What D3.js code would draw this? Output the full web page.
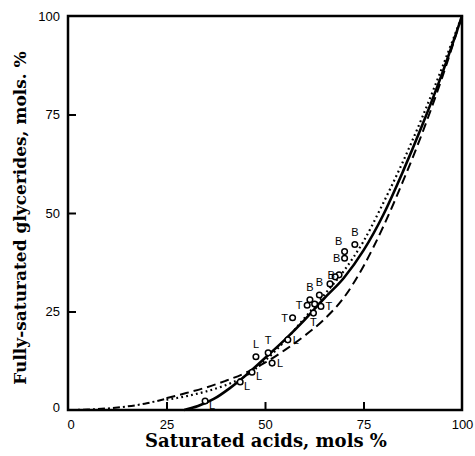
<!DOCTYPE html>
<html>
<head>
<meta charset="utf-8">
<script src="https://cdn.jsdelivr.net/npm/d3@7"></script>
<style>
  body { margin: 0; background: #fff; }
  svg { display: block; }
</style>
</head>
<body>
<script>

// DATI

var xTicks = [0, 25, 50, 75, 100];
var yTicks = [0, 25, 50, 75, 100];

// curva continua
var solidX = [29.5, 33, 37, 41, 45, 50, 55, 60, 65, 70, 75, 80, 85, 90, 95, 100];
var solidY = [0, 1, 2.8, 5.5, 8.7, 13.2, 17.8, 22.8, 28.3, 33.5, 40.5, 49.5, 60.5, 72.5, 85.5, 100];

// curva tratteggiata
var dashedX = [25, 30, 35, 40, 45, 50, 55, 60, 65, 70, 75, 80, 85, 90, 95, 100];
var dashedY = [3, 4.3, 5.7, 7.4, 9.4, 12, 15.2, 18.8, 23, 28.5, 36.5, 46.5, 58, 70.5, 84.5, 100];

// curva punteggiata
var dottedX = [25, 30, 35, 40, 45, 50, 55, 60, 65, 70, 75, 80, 85, 90, 95, 100];
var dottedY = [2.6, 3.5, 4.7, 6.3, 8.6, 12.5, 17.5, 23.3, 29.2, 35.3, 42.8, 52.5, 63, 74.5, 87, 100];

// curva tratto-punto
var dashDotX = [0, 5, 10, 15, 20, 25];
var dashDotY = [0, 0.1, 0.4, 0.9, 1.7, 2.9];

// punti sperimentali
var pointX = [72.8, 70.2, 70.2, 68.8, 67.8, 66.5, 63.8, 61.4, 60.7, 62.6, 64.2, 62.3, 57.0,
              47.7, 50.8, 51.8, 46.7, 43.7, 55.8, 34.8];
var pointY = [42.0, 40.2, 38.5, 34.3, 33.8, 32.0, 29.2, 28.0, 26.6, 26.9, 26.3, 24.6, 23.4,
              13.5, 14.5, 11.9, 9.6, 7.1, 17.8, 2.3];
var pointLabel = ["B", "B", "B", "B", "", "", "B", "B", "T", "", "T", "T", "T",
                  "L", "T", "L", "L", "L", "L", "L"];
var pointSide = ["n", "nw", "w", "w", "", "", "n", "n", "w", "", "e", "s", "w",
                 "n", "n", "e", "se", "se", "e", "se"];

var width = 475, height = 456;

// INIZIALIZZA L'SVG

var svg = d3.select("body")
    .append("svg")
    .attr("width", width)
    .attr("height", height);

var x = d3.scaleLinear().domain([0, 100]).range([68, 462]);
var y = d3.scaleLinear().domain([0, 100]).range([410, 16]);

// CORNICE

svg.append("rect")
    .attr("x", x(0))
    .attr("y", y(100))
    .attr("width", x(100) - x(0))
    .attr("height", y(0) - y(100))
    .attr("fill", "none")
    .attr("stroke", "black")
    .attr("stroke-width", 2.5);

// ASSI

var xAxis = d3.axisBottom(x).tickValues(xTicks).tickSize(-8).tickPadding(12);
var yAxis = d3.axisLeft(y).tickValues(yTicks).tickSize(-8).tickPadding(12);

var gx = svg.append("g")
    .attr("transform", "translate(0," + y(0) + ")")
    .call(xAxis);
var gy = svg.append("g")
    .attr("transform", "translate(" + x(0) + ",0)")
    .call(yAxis);

[gx, gy].forEach(function(g) {
    g.select(".domain").remove();
    g.selectAll(".tick line").attr("stroke", "black").attr("stroke-width", 2);
    g.selectAll(".tick text")
        .attr("font-family", "'Liberation Sans', Arial, sans-serif")
        .attr("font-size", "13px")
        .attr("fill", "black");
});
gx.selectAll(".tick line").filter(function(d) { return d === 0 || d === 100; }).remove();
gy.selectAll(".tick line").filter(function(d) { return d === 0 || d === 100; }).remove();
gx.selectAll(".tick text").attr("dy", "0.5em");
gx.selectAll(".tick text").filter(function(d) { return d === 0; }).attr("dx", "0.2em");
gy.selectAll(".tick text").attr("dx", "0.3em");
gy.selectAll(".tick text").filter(function(d) { return d === 0; }).attr("dy", "0.1em");

// TITOLI DEGLI ASSI

svg.append("text")
    .attr("x", 266)
    .attr("y", 447)
    .attr("text-anchor", "middle")
    .attr("font-family", "'DejaVu Serif', serif")
    .attr("font-weight", "bold")
    .attr("font-size", "18px")
    .attr("fill", "black")
    .text("Saturated acids, mols %");

svg.append("text")
    .attr("transform", "translate(26," + 218 + ") rotate(-90)")
    .attr("text-anchor", "middle")
    .attr("font-family", "'DejaVu Serif', serif")
    .attr("font-weight", "bold")
    .attr("font-size", "17px")
    .attr("fill", "black")
    .text("Fully-saturated glycerides, mols. %");

// CURVE

var line = d3.line()
    .x(function(d) { return x(d[0]); })
    .y(function(d) { return y(d[1]); })
    .curve(d3.curveMonotoneX);

function drawCurve(xs, ys, dash, w) {
    svg.append("path")
        .datum(d3.zip(xs, ys))
        .attr("d", line)
        .attr("fill", "none")
        .attr("stroke", "black")
        .attr("stroke-width", w)
        .attr("stroke-dasharray", dash);
}

drawCurve(dashDotX, dashDotY, "7,3,2,3", 2);
drawCurve(dottedX, dottedY, "1.8,3.2", 2.2);
drawCurve(dashedX, dashedY, "9,5", 2);
drawCurve(solidX, solidY, null, 2.6);

// PUNTI E ETICHETTE

var points = d3.range(pointX.length).map(function(i) {
    return { x: pointX[i], y: pointY[i], label: pointLabel[i], side: pointSide[i] };
});

var offsets = {
    n: [0, -9], s: [0, 13], e: [8, 4], w: [-8, 4],
    nw: [-6, -7], se: [7, 8], "": [0, 0]
};

svg.selectAll("circle.pt")
    .data(points)
    .enter()
    .append("circle")
    .attr("class", "pt")
    .attr("cx", function(d) { return x(d.x); })
    .attr("cy", function(d) { return y(d.y); })
    .attr("r", 2.8)
    .attr("fill", "white")
    .attr("stroke", "black")
    .attr("stroke-width", 1.5);

svg.selectAll("text.lab")
    .data(points.filter(function(d) { return d.label; }))
    .enter()
    .append("text")
    .attr("class", "lab")
    .attr("x", function(d) { return x(d.x) + offsets[d.side][0]; })
    .attr("y", function(d) { return y(d.y) + offsets[d.side][1]; })
    .attr("text-anchor", "middle")
    .attr("font-family", "'Liberation Sans', Arial, sans-serif")
    .attr("font-size", "11px")
    .attr("fill", "black")
    .text(function(d) { return d.label; });

</script>
</body>
</html>
